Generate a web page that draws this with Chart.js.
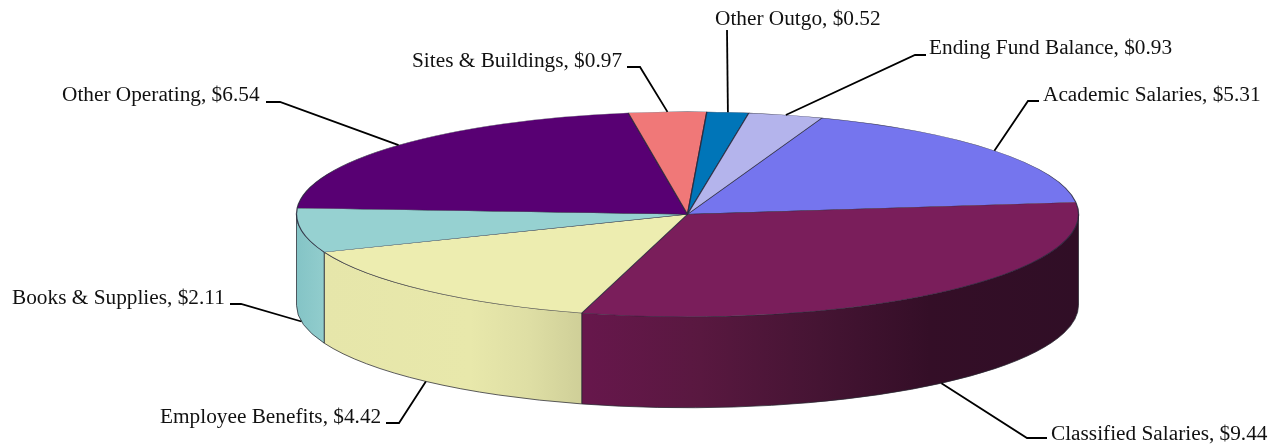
<!DOCTYPE html>
<html><head><meta charset="utf-8">
<style>html,body{margin:0;padding:0;background:#fff}#w{width:1274px;height:448px;position:relative}</style>
<script src="https://cdn.jsdelivr.net/npm/chart.js@4"></script>
</head><body><div id="w"><canvas id="c" width="1274" height="448"></canvas></div>
<script>
const categories = ["Academic Salaries","Classified Salaries","Employee Benefits","Books & Supplies","Other Operating","Sites & Buildings","Other Outgo","Ending Fund Balance"];
const values = [5.31,9.44,4.42,2.11,6.54,0.97,0.52,0.93];
const topColors = ["#7575EE","#7A1E5B","#EDEDB0","#96D1D1","#580073","#F07878","#0075B8","#B4B4EC"];

// Presentation layout (not data)
const RX = 391, RY = 102.5, DEPTH = 91, ROTATION = 20.1;
const wallStops = {
  1: [[582,"#67174C"],[700,"#591840"],[820,"#451433"],[930,"#340E27"],[1079,"#300E26"]],
  2: [[325,"#E6E6AA"],[470,"#E8E8AB"],[530,"#DEDEA4"],[582,"#CFCF98"]],
  3: [[297,"#84C4C6"],[325,"#92CDCD"]]
};
const labelLayout = [
  {tx:1043, ty:101, path:[[1028,101],[1039,101]]},
  {tx:1051, ty:440, path:[[1027,438],[1047,438]]},
  {tx:160,  ty:423, path:[[399,423],[386,423]]},
  {tx:12,   ty:304, path:[[241,304],[230,304]]},
  {tx:62,   ty:101, path:[[280,102],[266,102]]},
  {tx:412,  ty:67,  path:[[640,67],[627,67]]},
  {tx:715,  ty:25,  path:[[727,30]]},
  {tx:929,  ty:54,  path:[[915,55],[926,55]]}
];

const squash = {
  id:'squash',
  beforeDatasetDraw(chart, args){
    const ctx = chart.ctx, els = args.meta.data, cx = els[0].x, cy = els[0].y;
    // side wall
    els.forEach((el,i)=>{
      for(let k=-1;k<=1;k++){
        const a = Math.max(el.startAngle, 2*Math.PI*k), b = Math.min(el.endAngle, Math.PI+2*Math.PI*k);
        if(b<=a) continue;
        const g = ctx.createLinearGradient(296,0,1079,0);
        (wallStops[i]||[[296,topColors[i]],[1079,topColors[i]]]).forEach(([x,c])=>g.addColorStop((x-296)/783,c));
        ctx.save();
        ctx.beginPath();
        ctx.ellipse(cx,cy,RX,RY,0,a,b);
        ctx.ellipse(cx,cy+DEPTH,RX,RY,0,b,a,true);
        ctx.closePath();
        ctx.fillStyle = g; ctx.fill();
        ctx.strokeStyle = "rgba(40,40,50,0.75)"; ctx.lineWidth = 1; ctx.stroke();
        ctx.restore();
      }
    });
    ctx.save();
    ctx.translate(cx,cy); ctx.scale(1,RY/RX); ctx.translate(-cx,-cy);
  },
  afterDatasetDraw(chart){ chart.ctx.restore(); },
  afterDraw(chart){
    const ctx = chart.ctx, els = chart.getDatasetMeta(0).data;
    ctx.save();
    ctx.font = '21.3px "Liberation Serif"';
    ctx.textBaseline = 'alphabetic'; ctx.textAlign = 'left';
    els.forEach((el,i)=>{
      const mid = (el.startAngle+el.endAngle)/2, L = labelLayout[i];
      const x = el.x+RX*Math.cos(mid);
      let y = el.y+RY*Math.sin(mid);
      if(Math.sin(mid)>0) y += DEPTH;
      ctx.beginPath(); ctx.moveTo(x,y);
      L.path.forEach(p=>ctx.lineTo(p[0],p[1]));
      ctx.strokeStyle = '#000'; ctx.lineWidth = 1.8; ctx.stroke();
      ctx.fillStyle = '#111';
      ctx.fillText(categories[i]+", $"+values[i].toFixed(2), L.tx, L.ty);
    });
    ctx.restore();
  }
};

new Chart(document.getElementById('c'),{
  type:'pie',
  data:{labels:categories,datasets:[{data:values,backgroundColor:topColors,borderColor:"rgba(40,40,60,0.85)",borderWidth:1.3,clip:false}]},
  options:{
    responsive:false,animation:false,radius:RX,rotation:ROTATION,
    layout:{padding:{left:101,bottom:19.5}},
    plugins:{legend:{display:false},tooltip:{enabled:false}}
  },
  plugins:[squash]
});
</script></body></html>
